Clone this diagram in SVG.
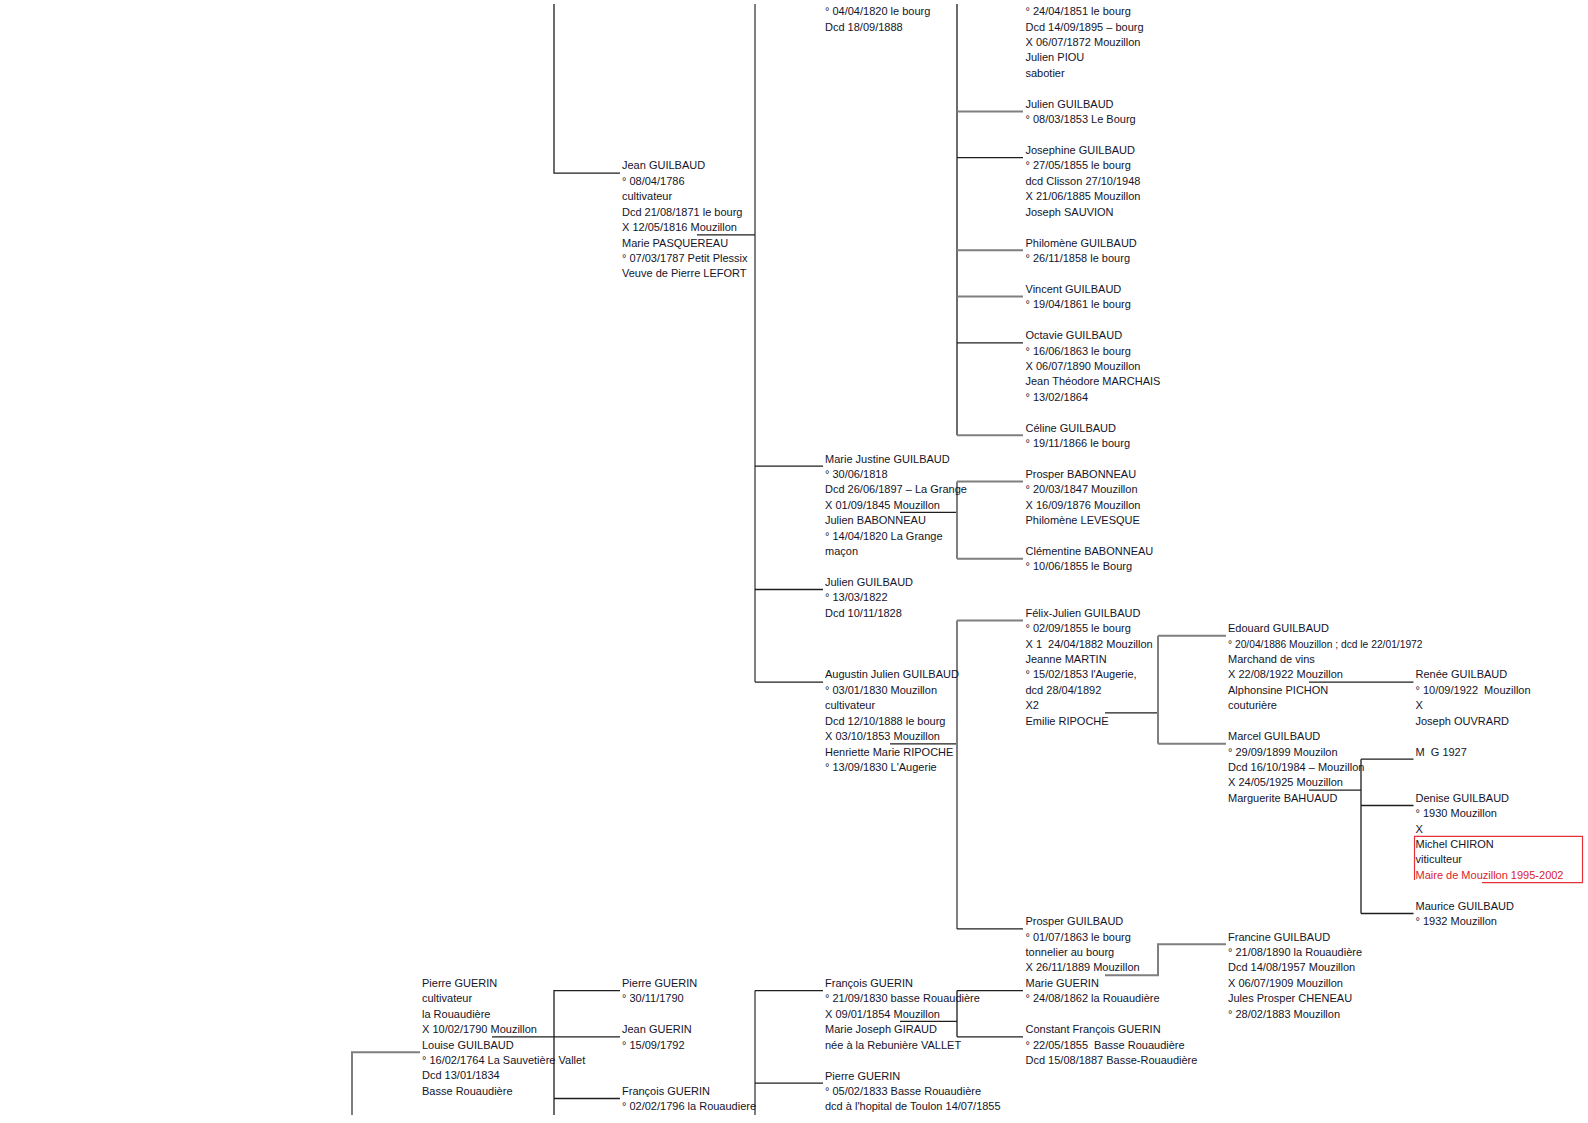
<svg xmlns="http://www.w3.org/2000/svg" width="1588" height="1123" viewBox="0 0 1588 1123">
<style>
text{font-family:"Liberation Sans",Arial,sans-serif;font-size:11px;fill:#14142a;white-space:pre}
.red{fill:#d9232e}
.g{stroke:#7f7f7f;stroke-width:2;fill:none}
.k{stroke:#1e1e1e;stroke-width:1.3;fill:none}
.box{stroke:#e8323a;stroke-width:1.2;fill:none}
</style>
<rect width="1588" height="1123" fill="#fff"/>
<g id="connectors">
<path class="k" d="M554 4V173.1H620"/>
<path class="g" d="M755 4V682.1"/>
<path class="k" d="M697 234.8H755"/>
<path class="k" d="M755 466.2H823M755 589.5H823M755 682.1H823"/>
<path class="k" d="M957 4V435.3"/>
<path class="g" d="M957 111.4H1023M957 250.2H1023M957 296.5H1023"/>
<path class="k" d="M957 157.7H1023M957 342.8H1023"/>
<path class="g" d="M957 435.3H1023"/>
<path class="k" d="M900 512.4H957"/>
<path class="g" d="M957 481.6V558.7M957 481.6H1023M957 558.7H1023"/>
<path class="k" d="M890 743.8H957"/>
<path class="g" d="M957 620.4V928.9M957 620.4H1023"/>
<path class="k" d="M957 928.9H1023"/>
<path class="k" d="M1105 712.9H1158"/>
<path class="g" d="M1158 635.8V743.8M1158 635.8H1226M1158 743.8H1226"/>
<path class="k" d="M1309 682.1H1413.5"/>
<path class="k" d="M1309 790.1H1361"/>
<path class="k" d="M1361 759.2V913.5M1361 759.2H1413.5M1361 805.5H1413.5M1361 913.5H1413.5"/>
<path class="g" d="M1105 975.2H1158V944.3H1226"/>
<path class="g" d="M352 1115V1052.3H420"/>
<path class="k" d="M492 1036.8H620"/>
<path class="k" d="M554 1115V990.6H620M554 1098.5H620"/>
<path class="g" d="M755 1115V990.6"/>
<path class="k" d="M755 990.6H823M755 1083.1H823"/>
<path class="k" d="M900 1021.4H957"/>
<path class="k" d="M957 990.6V1036.8M957 990.6H1023M957 1036.8H1023"/>
</g>
<g id="n_c_top"><text y="15.2"><tspan x="825">° 04/04/1820 le bourg</tspan><tspan x="825" dy="15.424">Dcd 18/09/1888</tspan></text></g>
<g id="n_d_top"><text y="15.2"><tspan x="1025.5">° 24/04/1851 le bourg</tspan><tspan x="1025.5" dy="15.424">Dcd 14/09/1895 – bourg</tspan><tspan x="1025.5" dy="15.424">X 06/07/1872 Mouzillon</tspan><tspan x="1025.5" dy="15.424">Julien PIOU</tspan><tspan x="1025.5" dy="15.424">sabotier</tspan></text></g>
<g id="jean_guilbaud"><text y="169.4"><tspan x="622">Jean GUILBAUD</tspan><tspan x="622" dy="15.424">° 08/04/1786</tspan><tspan x="622" dy="15.424">cultivateur</tspan><tspan x="622" dy="15.424">Dcd 21/08/1871 le bourg</tspan><tspan x="622" dy="15.424">X 12/05/1816 Mouzillon</tspan><tspan x="622" dy="15.424">Marie PASQUEREAU</tspan><tspan x="622" dy="15.424">° 07/03/1787 Petit Plessix</tspan><tspan x="622" dy="15.424">Veuve de Pierre LEFORT</tspan></text></g>
<g id="julien_1853"><text y="107.7"><tspan x="1025.5">Julien GUILBAUD</tspan><tspan x="1025.5" dy="15.424">° 08/03/1853 Le Bourg</tspan></text></g>
<g id="josephine"><text y="154"><tspan x="1025.5">Josephine GUILBAUD</tspan><tspan x="1025.5" dy="15.424">° 27/05/1855 le bourg</tspan><tspan x="1025.5" dy="15.424">dcd Clisson 27/10/1948</tspan><tspan x="1025.5" dy="15.424">X 21/06/1885 Mouzillon</tspan><tspan x="1025.5" dy="15.424">Joseph SAUVION</tspan></text></g>
<g id="philomene"><text y="246.6"><tspan x="1025.5">Philomène GUILBAUD</tspan><tspan x="1025.5" dy="15.424">° 26/11/1858 le bourg</tspan></text></g>
<g id="vincent"><text y="292.8"><tspan x="1025.5">Vincent GUILBAUD</tspan><tspan x="1025.5" dy="15.424">° 19/04/1861 le bourg</tspan></text></g>
<g id="octavie"><text y="339.1"><tspan x="1025.5">Octavie GUILBAUD</tspan><tspan x="1025.5" dy="15.424">° 16/06/1863 le bourg</tspan><tspan x="1025.5" dy="15.424">X 06/07/1890 Mouzillon</tspan><tspan x="1025.5" dy="15.424">Jean Théodore MARCHAIS</tspan><tspan x="1025.5" dy="15.424">° 13/02/1864</tspan></text></g>
<g id="celine"><text y="431.6"><tspan x="1025.5">Céline GUILBAUD</tspan><tspan x="1025.5" dy="15.424">° 19/11/1866 le bourg</tspan></text></g>
<g id="marie_justine"><text y="462.5"><tspan x="825">Marie Justine GUILBAUD</tspan><tspan x="825" dy="15.424">° 30/06/1818</tspan><tspan x="825" dy="15.424">Dcd 26/06/1897 – La Grange</tspan><tspan x="825" dy="15.424">X 01/09/1845 Mouzillon</tspan><tspan x="825" dy="15.424">Julien BABONNEAU</tspan><tspan x="825" dy="15.424">° 14/04/1820 La Grange</tspan><tspan x="825" dy="15.424">maçon</tspan></text></g>
<g id="prosper_babonneau"><text y="477.9"><tspan x="1025.5">Prosper BABONNEAU</tspan><tspan x="1025.5" dy="15.424">° 20/03/1847 Mouzillon</tspan><tspan x="1025.5" dy="15.424">X 16/09/1876 Mouzillon</tspan><tspan x="1025.5" dy="15.424">Philomène LEVESQUE</tspan></text></g>
<g id="clementine"><text y="555"><tspan x="1025.5">Clémentine BABONNEAU</tspan><tspan x="1025.5" dy="15.424">° 10/06/1855 le Bourg</tspan></text></g>
<g id="julien_1822"><text y="585.9"><tspan x="825">Julien GUILBAUD</tspan><tspan x="825" dy="15.424">° 13/03/1822</tspan><tspan x="825" dy="15.424">Dcd 10/11/1828</tspan></text></g>
<g id="augustin"><text y="678.4"><tspan x="825">Augustin Julien GUILBAUD</tspan><tspan x="825" dy="15.424">° 03/01/1830 Mouzillon</tspan><tspan x="825" dy="15.424">cultivateur</tspan><tspan x="825" dy="15.424">Dcd 12/10/1888 le bourg</tspan><tspan x="825" dy="15.424">X 03/10/1853 Mouzillon</tspan><tspan x="825" dy="15.424">Henriette Marie RIPOCHE</tspan><tspan x="825" dy="15.424">° 13/09/1830 L'Augerie</tspan></text></g>
<g id="felix"><text y="616.7"><tspan x="1025.5">Félix-Julien GUILBAUD</tspan><tspan x="1025.5" dy="15.424">° 02/09/1855 le bourg</tspan><tspan x="1025.5" dy="15.424">X 1  24/04/1882 Mouzillon</tspan><tspan x="1025.5" dy="15.424">Jeanne MARTIN</tspan><tspan x="1025.5" dy="15.424">° 15/02/1853 l'Augerie,</tspan><tspan x="1025.5" dy="15.424">dcd 28/04/1892</tspan><tspan x="1025.5" dy="15.424">X2</tspan><tspan x="1025.5" dy="15.424">Emilie RIPOCHE</tspan></text></g>
<g id="edouard"><text y="632.2"><tspan x="1228">Edouard GUILBAUD</tspan><tspan x="1228" dy="15.424" textLength="194.5" lengthAdjust="spacingAndGlyphs">° 20/04/1886 Mouzillon ; dcd le 22/01/1972</tspan><tspan x="1228" dy="15.424">Marchand de vins</tspan><tspan x="1228" dy="15.424">X 22/08/1922 Mouzillon</tspan><tspan x="1228" dy="15.424">Alphonsine PICHON</tspan><tspan x="1228" dy="15.424">couturière</tspan></text></g>
<g id="renee"><text y="678.4"><tspan x="1415.5">Renée GUILBAUD</tspan><tspan x="1415.5" dy="15.424">° 10/09/1922  Mouzillon</tspan><tspan x="1415.5" dy="15.424">X</tspan><tspan x="1415.5" dy="15.424">Joseph OUVRARD</tspan></text></g>
<g id="marcel"><text y="740.1"><tspan x="1228">Marcel GUILBAUD</tspan><tspan x="1228" dy="15.424">° 29/09/1899 Mouzilon</tspan><tspan x="1228" dy="15.424">Dcd 16/10/1984 – Mouzillon</tspan><tspan x="1228" dy="15.424">X 24/05/1925 Mouzillon</tspan><tspan x="1228" dy="15.424">Marguerite BAHUAUD</tspan></text></g>
<g id="mg1927"><text x="1415.5" y="755.6">M  G 1927</text></g>
<g id="denise"><text y="801.8"><tspan x="1415.5">Denise GUILBAUD</tspan><tspan x="1415.5" dy="15.424">° 1930 Mouzillon</tspan><tspan x="1415.5" dy="15.424">X</tspan><tspan x="1415.5" dy="15.424">Michel CHIRON</tspan><tspan x="1415.5" dy="15.424">viticulteur</tspan><tspan x="1415.5" dy="15.424" class="red">Maire de Mouzillon 1995-2002</tspan></text>
<path class="box" d="M1414.5 880V836.3H1582.5V882.6H1482"/></g>
<g id="maurice"><text y="909.8"><tspan x="1415.5">Maurice GUILBAUD</tspan><tspan x="1415.5" dy="15.424">° 1932 Mouzillon</tspan></text></g>
<g id="prosper_guilbaud"><text y="925.2"><tspan x="1025.5">Prosper GUILBAUD</tspan><tspan x="1025.5" dy="15.424">° 01/07/1863 le bourg</tspan><tspan x="1025.5" dy="15.424">tonnelier au bourg</tspan><tspan x="1025.5" dy="15.424">X 26/11/1889 Mouzillon</tspan><tspan x="1025.5" dy="15.424">Marie GUERIN</tspan><tspan x="1025.5" dy="15.424">° 24/08/1862 la Rouaudière</tspan></text></g>
<g id="francine"><text y="940.6"><tspan x="1228">Francine GUILBAUD</tspan><tspan x="1228" dy="15.424">° 21/08/1890 la Rouaudière</tspan><tspan x="1228" dy="15.424">Dcd 14/08/1957 Mouzillon</tspan><tspan x="1228" dy="15.424">X 06/07/1909 Mouzillon</tspan><tspan x="1228" dy="15.424">Jules Prosper CHENEAU</tspan><tspan x="1228" dy="15.424">° 28/02/1883 Mouzillon</tspan></text></g>
<g id="pierre_guerin_a"><text y="986.9"><tspan x="422">Pierre GUERIN</tspan><tspan x="422" dy="15.424">cultivateur</tspan><tspan x="422" dy="15.424">la Rouaudière</tspan><tspan x="422" dy="15.424">X 10/02/1790 Mouzillon</tspan><tspan x="422" dy="15.424">Louise GUILBAUD</tspan><tspan x="422" dy="15.424">° 16/02/1764 La Sauvetière Vallet</tspan><tspan x="422" dy="15.424">Dcd 13/01/1834</tspan><tspan x="422" dy="15.424">Basse Rouaudière</tspan></text></g>
<g id="pierre_guerin_b"><text y="986.9"><tspan x="622">Pierre GUERIN</tspan><tspan x="622" dy="15.424">° 30/11/1790</tspan></text></g>
<g id="jean_guerin"><text y="1033.2"><tspan x="622">Jean GUERIN</tspan><tspan x="622" dy="15.424">° 15/09/1792</tspan></text></g>
<g id="francois_guerin_b"><text y="1094.9"><tspan x="622">François GUERIN</tspan><tspan x="622" dy="15.424">° 02/02/1796 la Rouaudiere</tspan></text></g>
<g id="francois_guerin_c"><text y="986.9"><tspan x="825">François GUERIN</tspan><tspan x="825" dy="15.424">° 21/09/1830 basse Rouaudière</tspan><tspan x="825" dy="15.424">X 09/01/1854 Mouzillon</tspan><tspan x="825" dy="15.424">Marie Joseph GIRAUD</tspan><tspan x="825" dy="15.424">née à la Rebunière VALLET</tspan></text></g>
<g id="pierre_guerin_c"><text y="1079.5"><tspan x="825">Pierre GUERIN</tspan><tspan x="825" dy="15.424">° 05/02/1833 Basse Rouaudière</tspan><tspan x="825" dy="15.424">dcd à l'hopital de Toulon 14/07/1855</tspan></text></g>
<g id="constant"><text y="1033.2"><tspan x="1025.5">Constant François GUERIN</tspan><tspan x="1025.5" dy="15.424">° 22/05/1855  Basse Rouaudière</tspan><tspan x="1025.5" dy="15.424">Dcd 15/08/1887 Basse-Rouaudière</tspan></text></g>
</svg>
